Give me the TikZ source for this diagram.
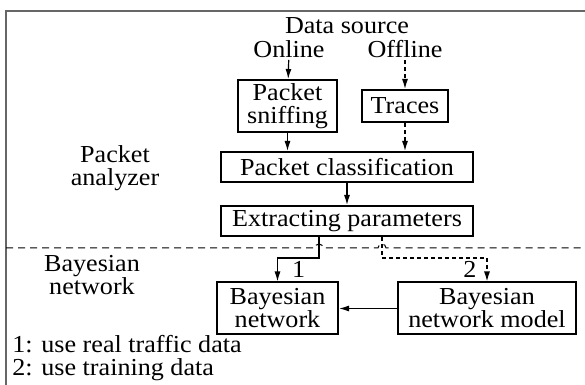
\documentclass[tikz,border=0pt]{standalone}
\usepackage{fontspec}
\setmainfont{Liberation Serif}[FakeStretch=1.07]
\usetikzlibrary{arrows.meta}

\begin{document}
\begin{tikzpicture}[x=0.5pt,y=-0.5pt,
    every node/.style={font=\fontsize{12.2}{11.5}\selectfont, inner sep=1pt},
    box/.style={draw, line width=1pt, align=center, inner sep=0pt},
    >={Latex[length=5pt,width=3pt]},
    link/.style={line width=0.6pt},
    dashlink/.style={line width=0.6pt, dash pattern=on 2pt off 1.5pt}]
    \useasboundingbox (0,0) rectangle (585,385);
    \draw[line width=1pt, black!60] (585,11) -- (6,11) -- (6,385);
    \draw[line width=0.5pt, dash pattern=on 3.5pt off 2.5pt] (6,248) -- (315,248)
        arc[start angle=180, end angle=360, radius=4] -- (378,248)
        arc[start angle=180, end angle=360, radius=4] -- (585,248);
    \node (datasrc) at (347,26) {Data source};
    \node (online) at (289,49) {Online};
    \node (offline) at (405,49) {Offline};
    \node[box, minimum width=49.5pt, minimum height=26pt] (sniff) at (287.5,106) {Packet\\sniffing};
    \node[box, minimum width=43pt, minimum height=16pt] (traces) at (405,106) {Traces};
    \node[box, minimum width=126pt, minimum height=15pt] (classif) at (347,167) {Packet classification};
    \node[box, minimum width=126pt, minimum height=15pt] (extract) at (347,221) {Extracting parameters};
    \node[box, minimum width=60.5pt, minimum height=26pt] (bnet) at (277.5,308.5) {Bayesian\\network};
    \node[box, minimum width=89pt, minimum height=26pt] (bmodel) at (487,308.5) {Bayesian\\network model};
    \node[align=center] (analyzer) at (115,168) {Packet\\analyzer};
    \node[align=center] (bayes) at (92,275) {Bayesian\\network};
    \node[anchor=west, align=left, inner sep=0pt] (legend) at (12,358.5) {1: use real traffic data\\2: use training data};
    \draw[->, link] (online) -- (sniff);
    \draw[->, dashlink] (offline) -- (traces);
    \draw[->, link] (sniff.south) -- (sniff.south |- classif.north);
    \draw[->, dashlink] (traces.south) -- (traces.south |- classif.north);
    \draw[->, link] (classif) -- (extract);
    \draw[->, link] ([xshift=-14pt]extract.south) -- ++(0,21) -| (bnet.north)
        node[pos=0.75, right=6pt] (one) {1};
    \draw[->, dashlink] ([xshift=17.5pt]extract.south) -- ++(0,21) -| (bmodel.north)
        node[pos=0.75, left=4pt] (two) {2};
    \draw[->, link] (bmodel) -- (bnet);
\end{tikzpicture}
\end{document}
